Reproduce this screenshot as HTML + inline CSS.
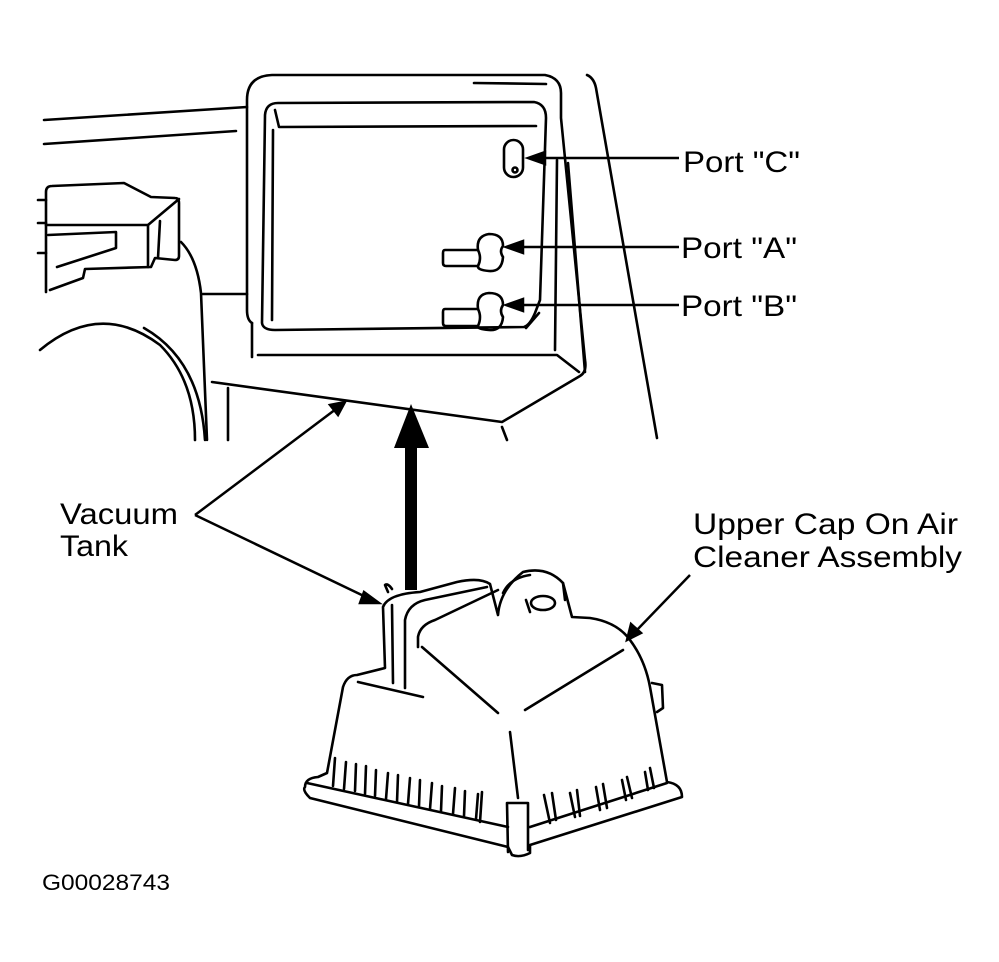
<!DOCTYPE html>
<html><head><meta charset="utf-8"><style>
html,body{margin:0;padding:0;background:#fff}
svg{display:block}
text{font-family:"Liberation Sans",Arial,sans-serif;fill:#000}
</style></head><body>
<svg width="999" height="962" viewBox="0 0 999 962" xmlns="http://www.w3.org/2000/svg">
<g fill="none" stroke="#000" stroke-width="2.6" stroke-linecap="round" stroke-linejoin="round">
<path d="M44 120 L247 107"/>
<path d="M44 144 L236 131"/>
<path d="M46 292 L46 192 Q46 186 52 186 L124 183 L151 197 L175 198 Q179 198 179 203 L179 256 Q179 260 175 260 L155 258 L151 267 L85 269 L83 278 L50 290"/>
<path d="M46 225 L148 225 L179 199"/>
<path d="M148 225 L148 267"/>
<path d="M160 221 L158 258"/>
<path d="M48 235 L116 232 L116 248 L57 267"/>
<path d="M38 200 L46 200 M38 223 L46 223 M38 253 L46 253"/>
<path d="M181 242 Q197 258 201 293 L207 440"/>
<path d="M203 294 L247 294"/>
<path d="M40 350 Q100 300 160 345 Q195 380 195 440"/>
<path d="M144 328 Q200 360 205 440"/>
<path d="M228 388 L228 440"/>
<path d="M252 323 Q247 320 247 310 L247 100 Q247 76 272 75 L545 75 Q561 78 561 93 L561 118 L585 360 Q587 372 580 376 L502 422 L212 382"/>
<path d="M252 323 L252 357"/>
<path d="M258 355 L557 355 L579 372"/>
<path d="M474 83 L546 84"/>
<path d="M587 75 Q594 78 596 88 L657 438"/>
<path d="M502 427 L507 440"/>
<path d="M262 323 L265 115 Q266 103 278 103 L534 102 Q546 104 546 118 L540 300 L535 313 Q530 325 524 327 L275 330 Q263 330 262 323"/>
<path d="M275 110 L279 127 L536 126"/>
<path d="M273 130 L272 320"/>
<path d="M539 313 L526 328"/>
<path d="M557 160 L555 350"/>
<path d="M568 163 L585 372"/>
<rect x="504" y="140" width="19" height="37" rx="9.5"/>
<circle cx="515" cy="170" r="2.5"/>
<path d="M478 250 L445 250 Q443 250 443 253 L443 263 Q443 266 446 266 L478 266"/>
<path d="M478 250 Q476 236 489 234 Q503 234 503 246 Q499 251 503 257 Q502 272 489 271 Q477 270 478 266 Q482 258 478 250"/>
<path d="M478 309 L445 309 Q443 309 443 312 L443 323 Q443 326 446 326 L478 326"/>
<path d="M478 309 Q476 294 489 293 Q503 293 503 305 Q499 311 503 317 Q502 331 489 330 Q477 329 478 326 Q482 317 478 309"/>
<path d="M383 607 Q388 594 420 592 L457 582 Q480 577 490 584 L498 615 Q500 590 523 572 Q547 566 563 583 L572 617 L590 618 Q617 622 630 640 Q645 660 650 687 L667 782 Q682 784 682 797 L530 845 L530 853 Q520 858 512 855 L508 847 L310 798 Q302 790 305 787 Q305 778 318 777 L327 773 L343 687 Q347 675 357 675 L385 668 Z"/>
<path d="M307 783 L508 827 M530 827 L667 783"/>
<path d="M392 605 L393 683 M405 688 L405 620 Q408 604 425 600 L487 587 M418 647 L418 637 Q420 625 435 620 L498 590"/>
<path d="M358 682 L423 697"/>
<path d="M422 647 L498 713 M525 710 L623 650 M510 732 L518 798"/>
<path d="M652 683 L662 685 L663 708 L657 712"/>
<path d="M503 593 Q510 578 530 575 M563 583 L565 600"/>
<ellipse cx="543" cy="603" rx="12" ry="7"/>
<path d="M526 600 L530 612"/>
<path d="M507 803 L508 852 M528 803 L528 850 M507 803 L528 803"/>
<path d="M388 592 L385 585 Q388 583 392 589"/>
<path d="M335 758 L333 786 M346 762 L344 789 M356 764 L355 791 M366 766 L365 794 M376 770 L375 796 M388 773 L386 799 M398 775 L397 802 M410 778 L408 804 M420 780 L419 806 M432 783 L430 809 M442 786 L441 811 M455 788 L453 814 M465 791 L464 816 M478 794 L476 819 M482 792 L480 822"/>
<path d="M544 795 L550 823 M552 793 L556 820 M570 793 L575 817 M577 790 L580 816 M596 787 L600 810 M603 784 L607 808 M622 780 L626 800 M627 777 L632 798 M645 772 L648 790 M650 768 L654 788"/>
</g>
<g stroke="#000" stroke-width="2.5" fill="#000">
<line x1="679" y1="158" x2="540" y2="158"/><polygon points="528,158 545,152 545,164"/>
<line x1="679" y1="247" x2="518" y2="247"/><polygon points="506,247 523,241 523,253"/>
<line x1="679" y1="305" x2="518" y2="305"/><polygon points="506,305 523,299 523,311"/>
<line x1="195" y1="515" x2="336" y2="409"/><polygon points="345,402 330,405 338,415"/>
<line x1="195" y1="515" x2="368" y2="598"/><polygon points="379,603 364,592 360,603"/>
<line x1="690" y1="575" x2="635" y2="632"/><polygon points="627,640 631,624 641,633"/>
<rect x="405" y="445" width="12" height="145" stroke="none"/>
<polygon points="394,448 429,448 411,404" stroke="none"/>
</g>
<text x="683" y="172" font-size="30" textLength="117" lengthAdjust="spacingAndGlyphs">Port "C"</text>
<text x="681" y="258" font-size="30" textLength="116" lengthAdjust="spacingAndGlyphs">Port "A"</text>
<text x="681" y="316" font-size="30" textLength="116" lengthAdjust="spacingAndGlyphs">Port "B"</text>
<text x="60" y="524" font-size="30" textLength="118" lengthAdjust="spacingAndGlyphs">Vacuum</text>
<text x="60" y="556" font-size="30" textLength="68" lengthAdjust="spacingAndGlyphs">Tank</text>
<text x="693" y="534" font-size="30" textLength="265" lengthAdjust="spacingAndGlyphs">Upper Cap On Air</text>
<text x="693" y="567" font-size="30" textLength="269" lengthAdjust="spacingAndGlyphs">Cleaner Assembly</text>
<text x="42" y="890" font-size="22" textLength="128" lengthAdjust="spacingAndGlyphs">G00028743</text>
</svg>
</body></html>
